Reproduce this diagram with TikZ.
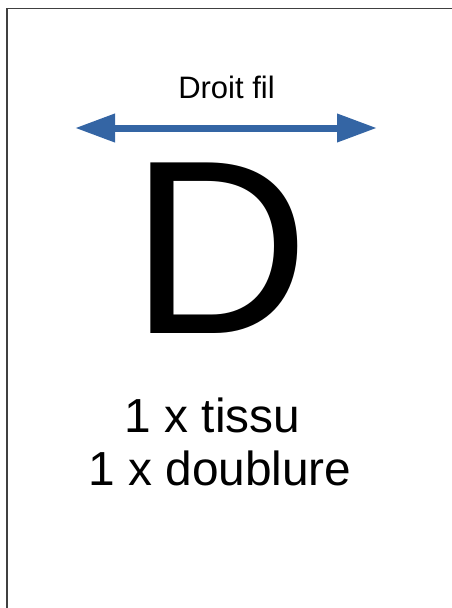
\documentclass[tikz,border=0pt]{standalone}
\usepackage{fontspec}
\setmainfont{Liberation Sans}
\usetikzlibrary{arrows.meta,positioning}
\definecolor{grainblue}{RGB}{52,101,164}
\begin{document}
\begin{tikzpicture}[x=1pt, y=-1pt,
  label/.style={inner sep=0pt, anchor=base},
  grain/.style={draw=grainblue, line width=7pt,
    {Triangle[length=40pt, width=27pt]}-{Triangle[length=40pt, width=27pt]}}]
\useasboundingbox (0,0) rectangle (451,608);
% piece outline, runs off the page on the right and below
\draw[black!75, line width=1.3pt] (7,640) -- (7,8.5) -- (480,8.5);

\node[label] (droit) at (226.5,98) {\fontsize{31}{36}\selectfont Droit fil};
\coordinate (gauche) at (75,128);
\coordinate (droite) at (377,128);
\draw[grain] (gauche) -- (droite);

\node[label] (lettre) at (220,333) {\fontsize{248}{280}\selectfont D};

\node[label] (tissu) at (212.5,432) {\fontsize{47.8}{54}\selectfont 1 x tissu};
\node[label] (doublure) at (220,485) {\fontsize{47.8}{54}\selectfont 1 x doublure};
\end{tikzpicture}
\end{document}
